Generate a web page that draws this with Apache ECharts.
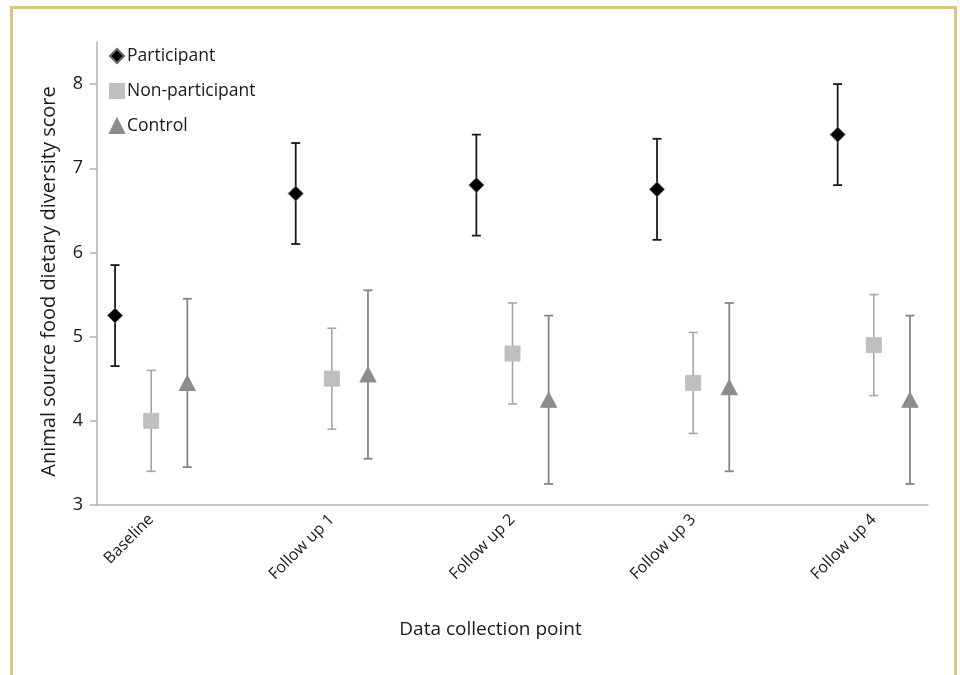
<!DOCTYPE html>
<html>
<head>
<meta charset="utf-8">
<script src="https://cdn.jsdelivr.net/npm/echarts@6/dist/echarts.min.js"></script>
<style>
html,body{margin:0;padding:0;background:#fff;}
#chart{width:960px;height:675px;}
</style>
</head>
<body>
<div id="chart"></div>
<script>
var categories = ['Baseline', 'Follow up 1', 'Follow up 2', 'Follow up 3', 'Follow up 4'];
var participantMean = [5.25, 6.7, 6.8, 6.75, 7.4];
var participantErr = [0.6, 0.6, 0.6, 0.6, 0.6];
var nonParticipantMean = [4.0, 4.5, 4.8, 4.45, 4.9];
var nonParticipantErr = [0.6, 0.6, 0.6, 0.6, 0.6];
var controlMean = [4.45, 4.55, 4.25, 4.4, 4.25];
var controlErr = [1.0, 1.0, 1.0, 1.0, 1.0];
var yTicks = [3, 4, 5, 6, 7, 8];

var FONT = '"Open Sans", Lato, sans-serif';

var groups = [
  {name: 'Participant', mean: participantMean, err: participantErr, offset: -0.2,
   symbol: 'diamond', size: [15, 15], color: '#000000', border: '#666666', bar: '#1a1a1a', barW: 1.8},
  {name: 'Non-participant', mean: nonParticipantMean, err: nonParticipantErr, offset: 0,
   symbol: 'rect', size: [15, 15], color: '#bfbfbf', border: '#bfbfbf', bar: '#a6a6a6', barW: 1.6},
  {name: 'Control', mean: controlMean, err: controlErr, offset: 0.2,
   symbol: 'triangle', size: [16, 15], color: '#8c8c8c', border: '#8c8c8c', bar: '#858585', barW: 1.8}
];

var series = [];
groups.forEach(function (g) {
  var barData = g.mean.map(function (m, i) { return [i + 1 + g.offset, m - g.err[i], m + g.err[i]]; });
  series.push({
    type: 'custom',
    name: g.name + ' error',
    silent: true,
    z: 1,
    data: barData,
    renderItem: function (params, api) {
      var x = api.value(0);
      var lo = api.coord([x, api.value(1)]);
      var hi = api.coord([x, api.value(2)]);
      var cw = 4.5;
      var st = {stroke: g.bar, lineWidth: g.barW};
      return {
        type: 'group',
        children: [
          {type: 'line', shape: {x1: lo[0], y1: lo[1], x2: hi[0], y2: hi[1]}, style: st},
          {type: 'line', shape: {x1: lo[0] - cw, y1: lo[1], x2: lo[0] + cw, y2: lo[1]}, style: st},
          {type: 'line', shape: {x1: hi[0] - cw, y1: hi[1], x2: hi[0] + cw, y2: hi[1]}, style: st}
        ]
      };
    }
  });
  series.push({
    type: 'scatter',
    name: g.name,
    z: 3,
    symbol: g.symbol,
    symbolSize: g.size,
    itemStyle: {color: g.color, borderColor: g.border, borderWidth: 1, opacity: 1},
    data: g.mean.map(function (m, i) { return [i + 1 + g.offset, m]; })
  });
});

var chart = echarts.init(document.getElementById('chart'), null, {renderer: 'canvas'});
chart.setOption({
  animation: false,
  backgroundColor: '#ffffff',
  graphic: [{
    type: 'rect',
    shape: {x: 11.5, y: 7.5, width: 944, height: 700},
    style: {fill: 'none', stroke: '#dcc487', lineWidth: 3},
    z: 0
  }],
  grid: {left: 97, right: 32, top: 42, bottom: 170, containLabel: false},
  legend: {
    orient: 'vertical',
    left: 104,
    top: 42,
    itemGap: 17,
    itemWidth: 14,
    itemHeight: 14,
    data: groups.map(function (g) { return g.name; }),
    textStyle: {fontFamily: FONT, fontSize: 17.5, color: '#1a1a1a', padding: [0, 0, 0, -2]},
    selectedMode: false
  },
  xAxis: {
    type: 'value',
    min: 0.7,
    max: 5.3,
    splitLine: {show: false},
    axisLine: {show: true, onZero: false, lineStyle: {color: '#b3b3b3', width: 1.5}},
    axisTick: {show: false},
    axisLabel: {
      customValues: [1, 2, 3, 4, 5],
      rotate: 45,
      margin: 12,
      fontFamily: FONT,
      fontSize: 16,
      color: '#1a1a1a',
      formatter: function (v) { return categories[Math.round(v) - 1] || ''; }
    },
    name: 'Data collection point',
    nameLocation: 'middle',
    nameGap: 115,
    nameTextStyle: {fontFamily: FONT, fontSize: 19, color: '#1a1a1a', padding: [0, 44, 0, 0]}
  },
  yAxis: {
    type: 'value',
    min: 3,
    max: 8.5,
    splitLine: {show: false},
    axisLine: {show: true, lineStyle: {color: '#b3b3b3', width: 1.5}},
    axisTick: {show: true, customValues: yTicks, length: 7, lineStyle: {color: '#b3b3b3', width: 1.5}},
    axisLabel: {customValues: yTicks, margin: 14, fontFamily: FONT, fontSize: 18, color: '#1a1a1a'},
    name: 'Animal source food dietary diversity score',
    nameLocation: 'middle',
    nameGap: 38,
    nameTextStyle: {fontFamily: FONT, fontSize: 20, color: '#1a1a1a', padding: [0, 0, 0, -16]}
  },
  series: series
});
</script>
</body>
</html>
